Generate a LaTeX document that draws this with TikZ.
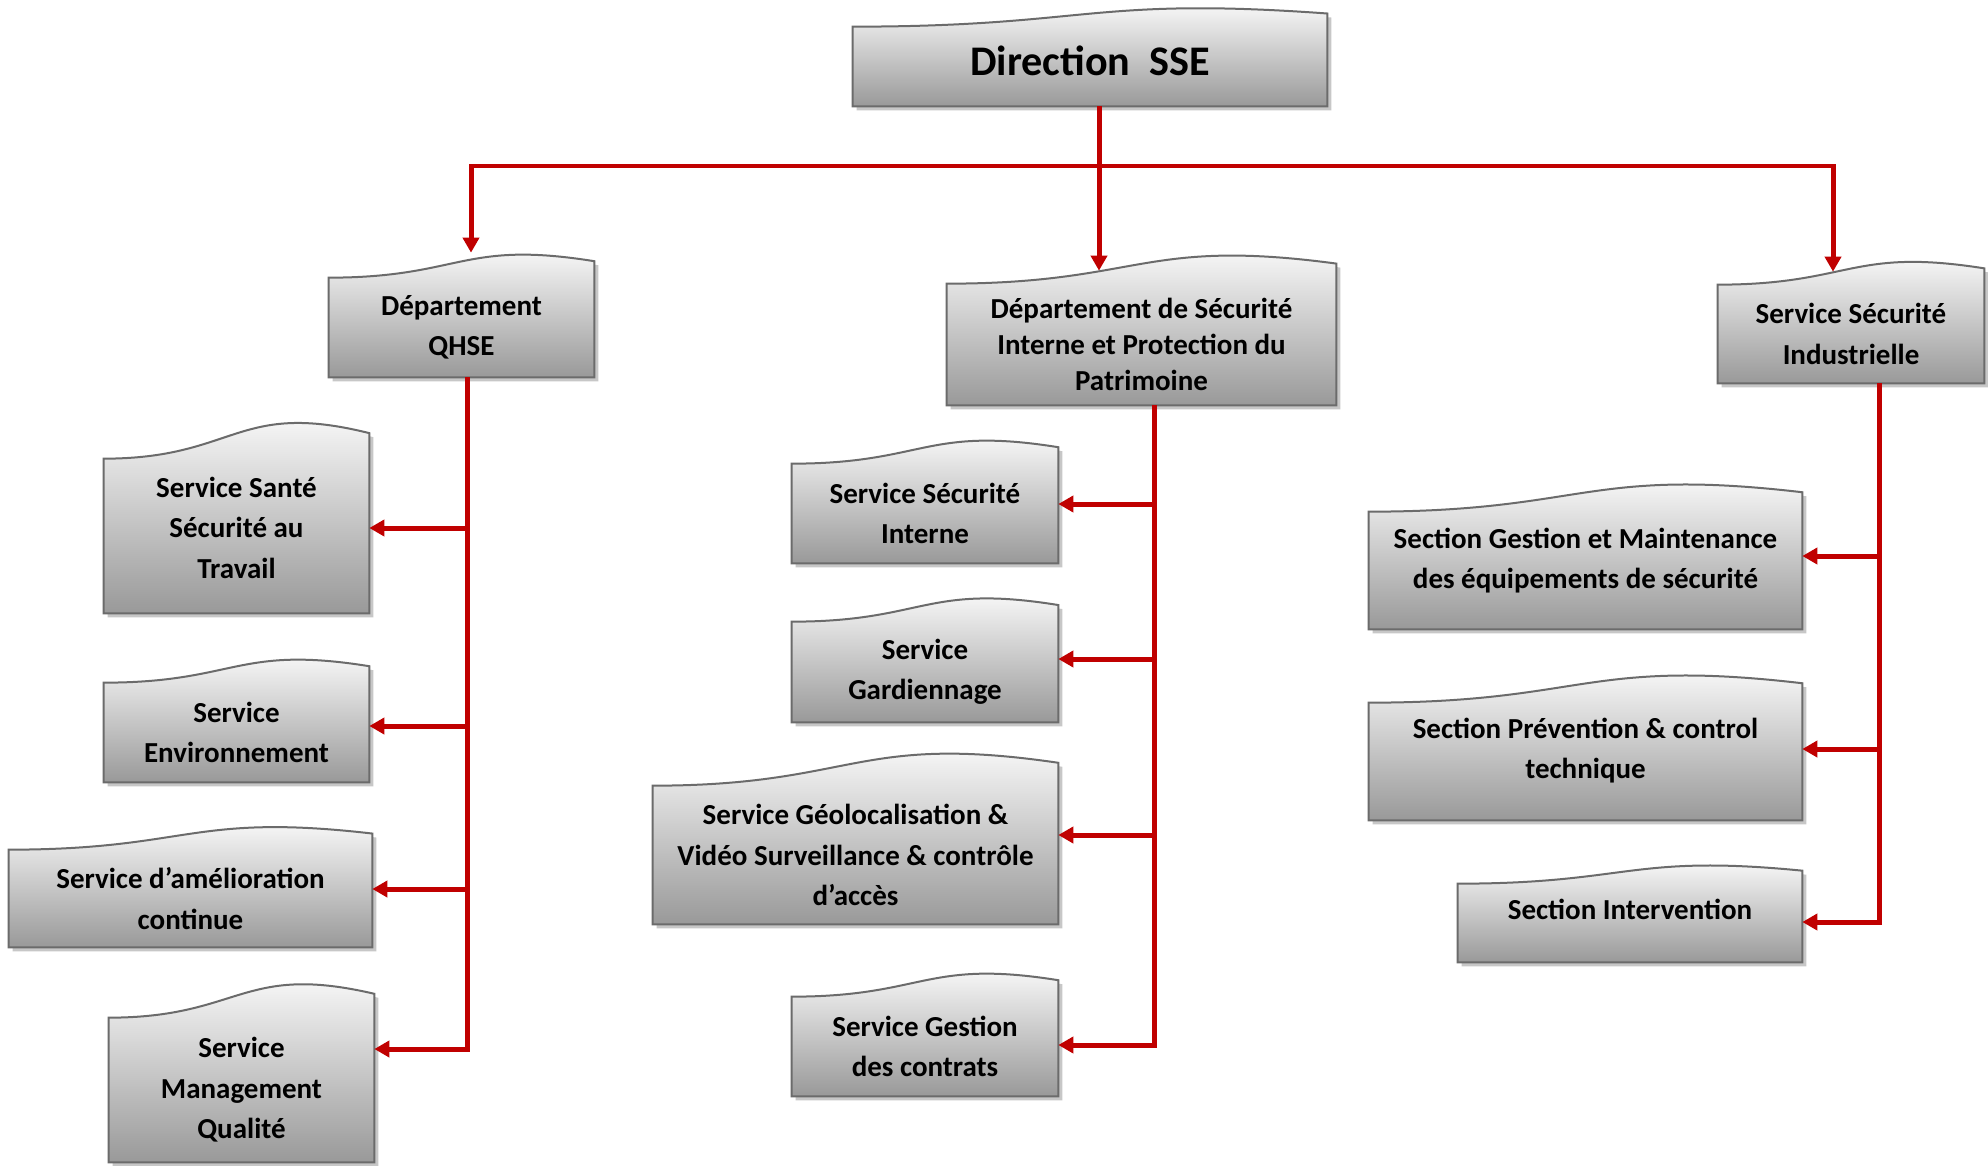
\documentclass[tikz,border=0pt]{standalone}
\usepackage{fontspec}
\setmainfont{Carlito}
\usetikzlibrary{arrows.meta,calc,backgrounds,shadows}

\definecolor{linkred}{HTML}{C00000}
\definecolor{boxline}{HTML}{6B6B6B}

% box with a wavy top, drawn behind the named node
\newcommand{\wave}[1]{%
  \path[wavebox] let \p1=(#1.south west), \p2=(#1.north east),
    \n1={\x2-\x1}, \n2={\y2-\y1} in
    (\x1,\y1) -- (\x1,\y2)
    .. controls (\x1+0.5*\n1,\y2) and (\x1+0.5*\n1,\y2+0.38*\n2) .. (\x2,\y2+0.165*\n2)
    -- (\x2,\y1) -- cycle;}
% extra depth under the last line, lifts the text a little
\newcommand{\lift}[1]{\rule[-#1]{0pt}{#1}}

\tikzset{
  unitbox/.style={draw=none, inner sep=0pt, align=center,
    font=\fontsize{16.5}{23}\selectfont\bfseries},
  wavebox/.style={draw=boxline, line width=0.04cm, top color=white, bottom color=black!40,
    drop shadow={shadow xshift=0.08cm, shadow yshift=-0.08cm, fill=black!22, opacity=1}},
  link/.style={draw=linkred, line width=0.1cm},
  feed/.style={link, -{Triangle[length=0.3cm,width=0.32cm]}}
}

\begin{document}
\begin{tikzpicture}[x=0.02cm, y=-0.02cm]
    \useasboundingbox (0,0) rectangle (1988,1166);

    % top
    \node[unitbox, minimum width=9.48cm, minimum height=1.58cm,
      font=\fontsize{24}{28}\selectfont\bfseries] (dir) at (1090,66.5) {Direction\ \ SSE\lift{0.22cm}};
    \node[unitbox, minimum width=5.3cm, minimum height=1.98cm] (qhse) at (461.5,327.5) {Département\\QHSE};
    \node[unitbox, minimum width=7.78cm, minimum height=2.42cm,
      font=\fontsize{16.5}{20.5}\selectfont\bfseries] (dsi) at (1141.5,344.5)
      {Département de Sécurité\\Interne et Protection du\\Patrimoine};
    \node[unitbox, minimum width=5.32cm, minimum height=1.96cm] (ssi) at (1851,334) {Service Sécurité\\Industrielle};

    % left column
    \node[unitbox, minimum width=5.3cm, minimum height=3.08cm] (sante) at (236.5,536) {Service Santé\\Sécurité au\\Travail\lift{0.34cm}};
    \node[unitbox, minimum width=5.3cm, minimum height=1.98cm] (env) at (236.5,732.5) {Service\\Environnement};
    \node[unitbox, minimum width=7.26cm, minimum height=1.94cm] (amel) at (190.5,898.5) {Service d’amélioration\\continue};
    \node[unitbox, minimum width=5.3cm, minimum height=2.88cm] (mgmt) at (241.5,1090) {Service\\Management\\Qualité};

    % middle column
    \node[unitbox, minimum width=5.32cm, minimum height=1.98cm] (sint) at (925,513.5) {Service Sécurité\\Interne};
    \node[unitbox, minimum width=5.32cm, minimum height=2cm] (gard) at (925,672) {Service\\Gardiennage};
    \node[unitbox, minimum width=8.1cm, minimum height=2.76cm] (geo) at (855.5,855)
      {Service Géolocalisation \&\\Vidéo Surveillance \& contrôle\\d’accès};
    \node[unitbox, minimum width=5.32cm, minimum height=1.98cm] (gcon) at (925,1046.5) {Service Gestion\\des contrats};

    % right column
    \node[unitbox, minimum width=8.66cm, minimum height=2.34cm] (gmaint) at (1585.5,570.5)
      {Section Gestion et Maintenance\\des équipements de sécurité\lift{0.48cm}};
    \node[unitbox, minimum width=8.66cm, minimum height=2.34cm] (prev) at (1585.5,761.5)
      {Section Prévention \& control\\technique\lift{0.52cm}};
    \node[unitbox, minimum width=6.88cm, minimum height=1.56cm] (inter) at (1630,923) {Section Intervention\lift{0.54cm}};

    \begin{scope}[on background layer]
      \fill[white] (0,0) rectangle (1988,1166);
      \foreach \boxname in {dir,qhse,dsi,ssi,sante,env,amel,mgmt,sint,gard,geo,gcon,gmaint,prev,inter}
        \wave{\boxname};
    \end{scope}

    % bus under the direction
    \coordinate (busM) at (1099,166);
    \coordinate (tipL) at ($(qhse.north)+(9.5,-25)$);
    \coordinate (tipM) at ($(dsi.north)+(-42.5,-13)$);
    \coordinate (tipR) at ($(ssi.north)+(-18,-13)$);
    \draw[feed] (dir.south -| busM) -- (tipM);
    \draw[feed] (busM) -| (tipL);
    \draw[feed] (busM) -| (tipR);

    % trunks
    \coordinate (l1) at (467,528);
    \coordinate (l2) at (467,726);
    \coordinate (l3) at (467,889);
    \coordinate (l4) at (467,1049);
    \coordinate (m1) at (1154,504);
    \coordinate (m2) at (1154,659);
    \coordinate (m3) at (1154,835);
    \coordinate (m4) at (1154,1045);
    \coordinate (r1) at (1879,556);
    \coordinate (r2) at (1879,749);
    \coordinate (r3) at (1879,922);

    \draw[feed] (qhse.south -| l4) -- (l4) -- (mgmt.east |- l4);
    \foreach \pt/\tg in {l1/sante, l2/env, l3/amel}
      \draw[feed] (\pt) -- (\tg.east |- \pt);
    \draw[feed] (dsi.south -| m4) -- (m4) -- (gcon.east |- m4);
    \foreach \pt/\tg in {m1/sint, m2/gard, m3/geo}
      \draw[feed] (\pt) -- (\tg.east |- \pt);
    \draw[feed] (ssi.south -| r3) -- (r3) -- (inter.east |- r3);
    \foreach \pt/\tg in {r1/gmaint, r2/prev}
      \draw[feed] (\pt) -- (\tg.east |- \pt);
\end{tikzpicture}
\end{document}
